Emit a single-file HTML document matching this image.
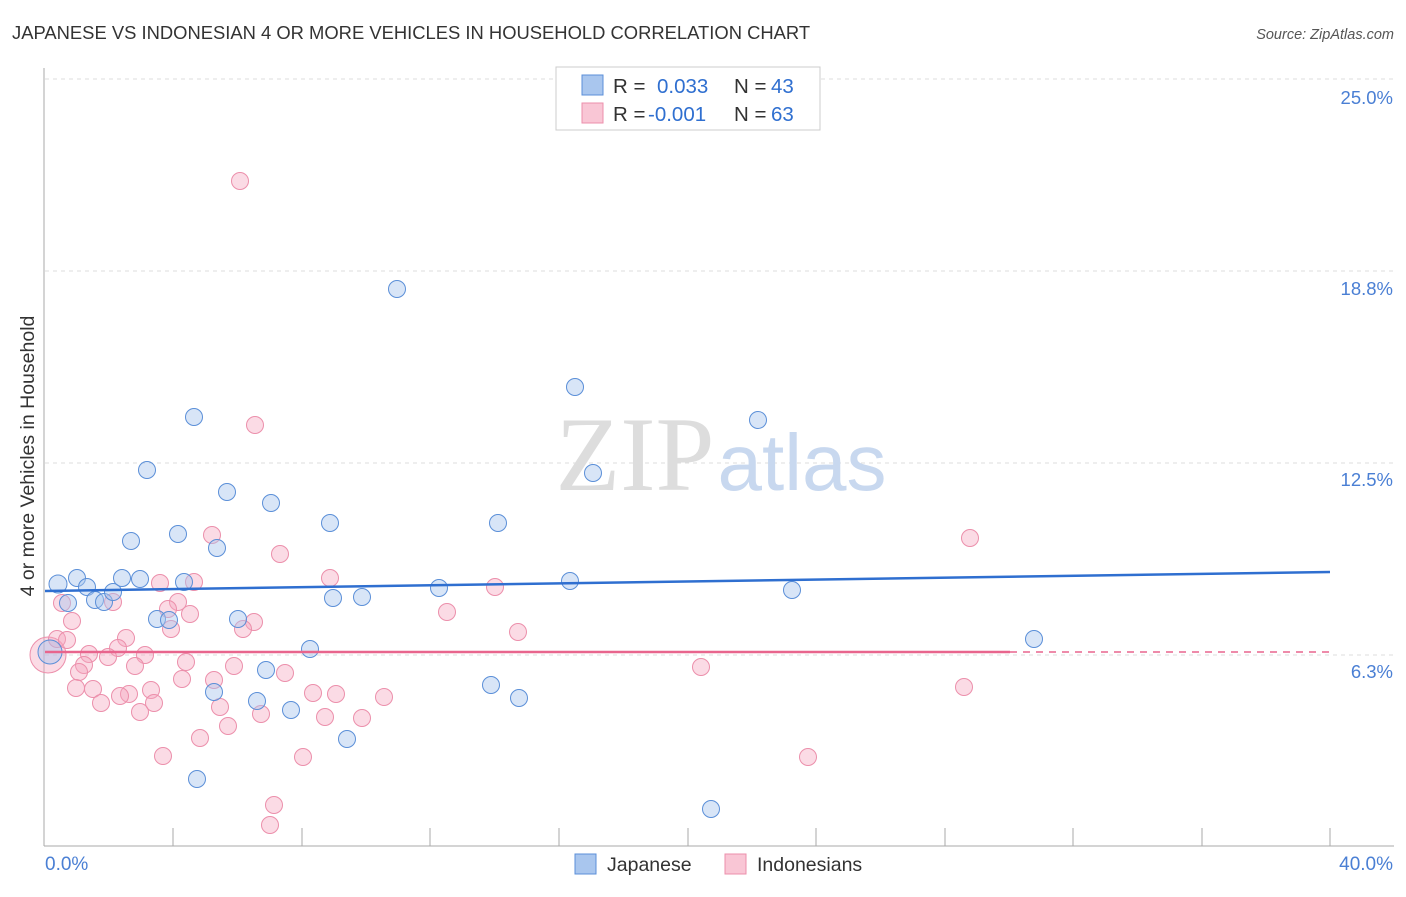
<!DOCTYPE html>
<html><head><meta charset="utf-8"><style>
body{margin:0;background:#fff;font-family:"Liberation Sans",sans-serif;}
</style></head><body>
<svg width="1406" height="892" xmlns="http://www.w3.org/2000/svg" font-family="Liberation Sans, sans-serif">
<text x="12" y="39" font-size="18.4" fill="#333">JAPANESE VS INDONESIAN 4 OR MORE VEHICLES IN HOUSEHOLD CORRELATION CHART</text>
<text x="1394" y="39" font-size="14.5" fill="#555" font-style="italic" text-anchor="end">Source: ZipAtlas.com</text>
<g stroke="#ddd" stroke-dasharray="4,4">
<line x1="45" y1="79" x2="1394" y2="79"/><line x1="45" y1="271" x2="1394" y2="271"/><line x1="45" y1="463" x2="1394" y2="463"/><line x1="45" y1="655" x2="1394" y2="655"/>
</g>
<line x1="44" y1="68" x2="44" y2="846" stroke="#aaa"/>
<line x1="44" y1="846" x2="1394" y2="846" stroke="#aaa"/>
<g stroke="#aaa"><line x1="173" y1="828" x2="173" y2="846"/><line x1="302" y1="828" x2="302" y2="846"/><line x1="430" y1="828" x2="430" y2="846"/><line x1="559" y1="828" x2="559" y2="846"/><line x1="688" y1="828" x2="688" y2="846"/><line x1="816" y1="828" x2="816" y2="846"/><line x1="945" y1="828" x2="945" y2="846"/><line x1="1073" y1="828" x2="1073" y2="846"/><line x1="1202" y1="828" x2="1202" y2="846"/><line x1="1330" y1="828" x2="1330" y2="846"/></g>
<g fill="#4a7fd4" font-size="18.5" text-anchor="end"><text x="1393" y="104">25.0%</text><text x="1393" y="295">18.8%</text><text x="1393" y="486">12.5%</text><text x="1393" y="678">6.3%</text></g>
<text x="45" y="870" fill="#4a7fd4" font-size="19">0.0%</text>
<text x="1393" y="870" fill="#4a7fd4" font-size="19" text-anchor="end">40.0%</text>
<text x="34" y="456" font-size="19.5" fill="#333" transform="rotate(-90 34 456)" text-anchor="middle">4 or more Vehicles in Household</text>
<text x="635" y="490" font-size="106" fill="#ddd" font-family="Liberation Serif, serif" text-anchor="middle">ZIP</text>
<text x="802" y="490" font-size="80" fill="#c8d8ef" text-anchor="middle">atlas</text>
<g fill="#f4a6bd" fill-opacity="0.4" stroke="#ec8fab" stroke-width="1">
<circle cx="48" cy="655" r="18"/>
<circle cx="240" cy="181" r="8.5"/><circle cx="255" cy="425" r="8.5"/><circle cx="212" cy="535" r="8.5"/><circle cx="280" cy="554" r="8.5"/><circle cx="330" cy="578" r="8.5"/><circle cx="194" cy="582" r="8.5"/><circle cx="160" cy="583" r="8.5"/><circle cx="62" cy="603" r="8.5"/><circle cx="113" cy="602" r="8.5"/><circle cx="178" cy="602" r="8.5"/><circle cx="168" cy="609" r="8.5"/><circle cx="190" cy="614" r="8.5"/><circle cx="72" cy="621" r="8.5"/><circle cx="126" cy="638" r="8.5"/><circle cx="57" cy="639" r="8.5"/><circle cx="67" cy="640" r="8.5"/><circle cx="118" cy="648" r="8.5"/><circle cx="145" cy="655" r="8.5"/><circle cx="108" cy="657" r="8.5"/><circle cx="89" cy="654" r="8.5"/><circle cx="84" cy="665" r="8.5"/><circle cx="135" cy="666" r="8.5"/><circle cx="79" cy="672" r="8.5"/><circle cx="186" cy="662" r="8.5"/><circle cx="234" cy="666" r="8.5"/><circle cx="285" cy="673" r="8.5"/><circle cx="182" cy="679" r="8.5"/><circle cx="214" cy="680" r="8.5"/><circle cx="254" cy="622" r="8.5"/><circle cx="243" cy="629" r="8.5"/><circle cx="171" cy="629" r="8.5"/><circle cx="76" cy="688" r="8.5"/><circle cx="93" cy="689" r="8.5"/><circle cx="151" cy="690" r="8.5"/><circle cx="129" cy="694" r="8.5"/><circle cx="120" cy="696" r="8.5"/><circle cx="313" cy="693" r="8.5"/><circle cx="336" cy="694" r="8.5"/><circle cx="384" cy="697" r="8.5"/><circle cx="101" cy="703" r="8.5"/><circle cx="154" cy="703" r="8.5"/><circle cx="140" cy="712" r="8.5"/><circle cx="220" cy="707" r="8.5"/><circle cx="261" cy="714" r="8.5"/><circle cx="325" cy="717" r="8.5"/><circle cx="362" cy="718" r="8.5"/><circle cx="228" cy="726" r="8.5"/><circle cx="200" cy="738" r="8.5"/><circle cx="163" cy="756" r="8.5"/><circle cx="303" cy="757" r="8.5"/><circle cx="274" cy="805" r="8.5"/><circle cx="270" cy="825" r="8.5"/><circle cx="447" cy="612" r="8.5"/><circle cx="495" cy="587" r="8.5"/><circle cx="518" cy="632" r="8.5"/><circle cx="701" cy="667" r="8.5"/><circle cx="808" cy="757" r="8.5"/><circle cx="964" cy="687" r="8.5"/><circle cx="970" cy="538" r="8.5"/>
</g>
<g fill="#a9c6ee" fill-opacity="0.45" stroke="#5b8fd8" stroke-width="1">
<circle cx="50" cy="652" r="12"/>
<circle cx="58" cy="584" r="9"/><circle cx="77" cy="578" r="8.5"/><circle cx="87" cy="587" r="8.5"/><circle cx="68" cy="603" r="8.5"/><circle cx="95" cy="600" r="8.5"/><circle cx="104" cy="602" r="8.5"/><circle cx="113" cy="592" r="8.5"/><circle cx="122" cy="578" r="8.5"/><circle cx="140" cy="579" r="8.5"/><circle cx="131" cy="541" r="8.5"/><circle cx="147" cy="470" r="8.5"/><circle cx="178" cy="534" r="8.5"/><circle cx="184" cy="582" r="8.5"/><circle cx="157" cy="619" r="8.5"/><circle cx="169" cy="620" r="8.5"/><circle cx="194" cy="417" r="8.5"/><circle cx="217" cy="548" r="8.5"/><circle cx="227" cy="492" r="8.5"/><circle cx="238" cy="619" r="8.5"/><circle cx="271" cy="503" r="8.5"/><circle cx="266" cy="670" r="8.5"/><circle cx="214" cy="692" r="8.5"/><circle cx="257" cy="701" r="8.5"/><circle cx="291" cy="710" r="8.5"/><circle cx="310" cy="649" r="8.5"/><circle cx="330" cy="523" r="8.5"/><circle cx="333" cy="598" r="8.5"/><circle cx="362" cy="597" r="8.5"/><circle cx="347" cy="739" r="8.5"/><circle cx="397" cy="289" r="8.5"/><circle cx="439" cy="588" r="8.5"/><circle cx="498" cy="523" r="8.5"/><circle cx="491" cy="685" r="8.5"/><circle cx="519" cy="698" r="8.5"/><circle cx="570" cy="581" r="8.5"/><circle cx="575" cy="387" r="8.5"/><circle cx="593" cy="473" r="8.5"/><circle cx="711" cy="809" r="8.5"/><circle cx="758" cy="420" r="8.5"/><circle cx="792" cy="590" r="8.5"/><circle cx="1034" cy="639" r="8.5"/><circle cx="197" cy="779" r="8.5"/>
</g>
<line x1="45" y1="591" x2="1330" y2="572" stroke="#2f6fd0" stroke-width="2.5"/>
<line x1="45" y1="652" x2="1010" y2="652" stroke="#e8658d" stroke-width="2.5"/>
<line x1="1010" y1="652" x2="1330" y2="652" stroke="#e8658d" stroke-width="1.5" stroke-dasharray="7,6"/>
<rect x="556" y="67" width="264" height="63" fill="#fff" stroke="#ccc"/>
<rect x="582" y="75" width="21" height="20" fill="#a9c6ee" stroke="#5b8fd8"/>
<rect x="582" y="103" width="21" height="20" fill="#f9c6d5" stroke="#ec8fab"/>
<g font-size="20.5"><text x="613" y="93" fill="#333">R =</text><text x="657" y="93" fill="#2f6fd0">0.033</text><text x="734" y="93" fill="#333">N =</text><text x="771" y="93" fill="#2f6fd0">43</text>
<text x="613" y="121" fill="#333">R =</text><text x="648" y="121" fill="#2f6fd0">-0.001</text><text x="734" y="121" fill="#333">N =</text><text x="771" y="121" fill="#2f6fd0">63</text></g>
<rect x="575" y="854" width="21" height="20" fill="#a9c6ee" stroke="#5b8fd8"/>
<text x="607" y="871" font-size="19.5" fill="#333">Japanese</text>
<rect x="725" y="854" width="21" height="20" fill="#f9c6d5" stroke="#ec8fab"/>
<text x="757" y="871" font-size="19.5" fill="#333">Indonesians</text>
</svg>
</body></html>
